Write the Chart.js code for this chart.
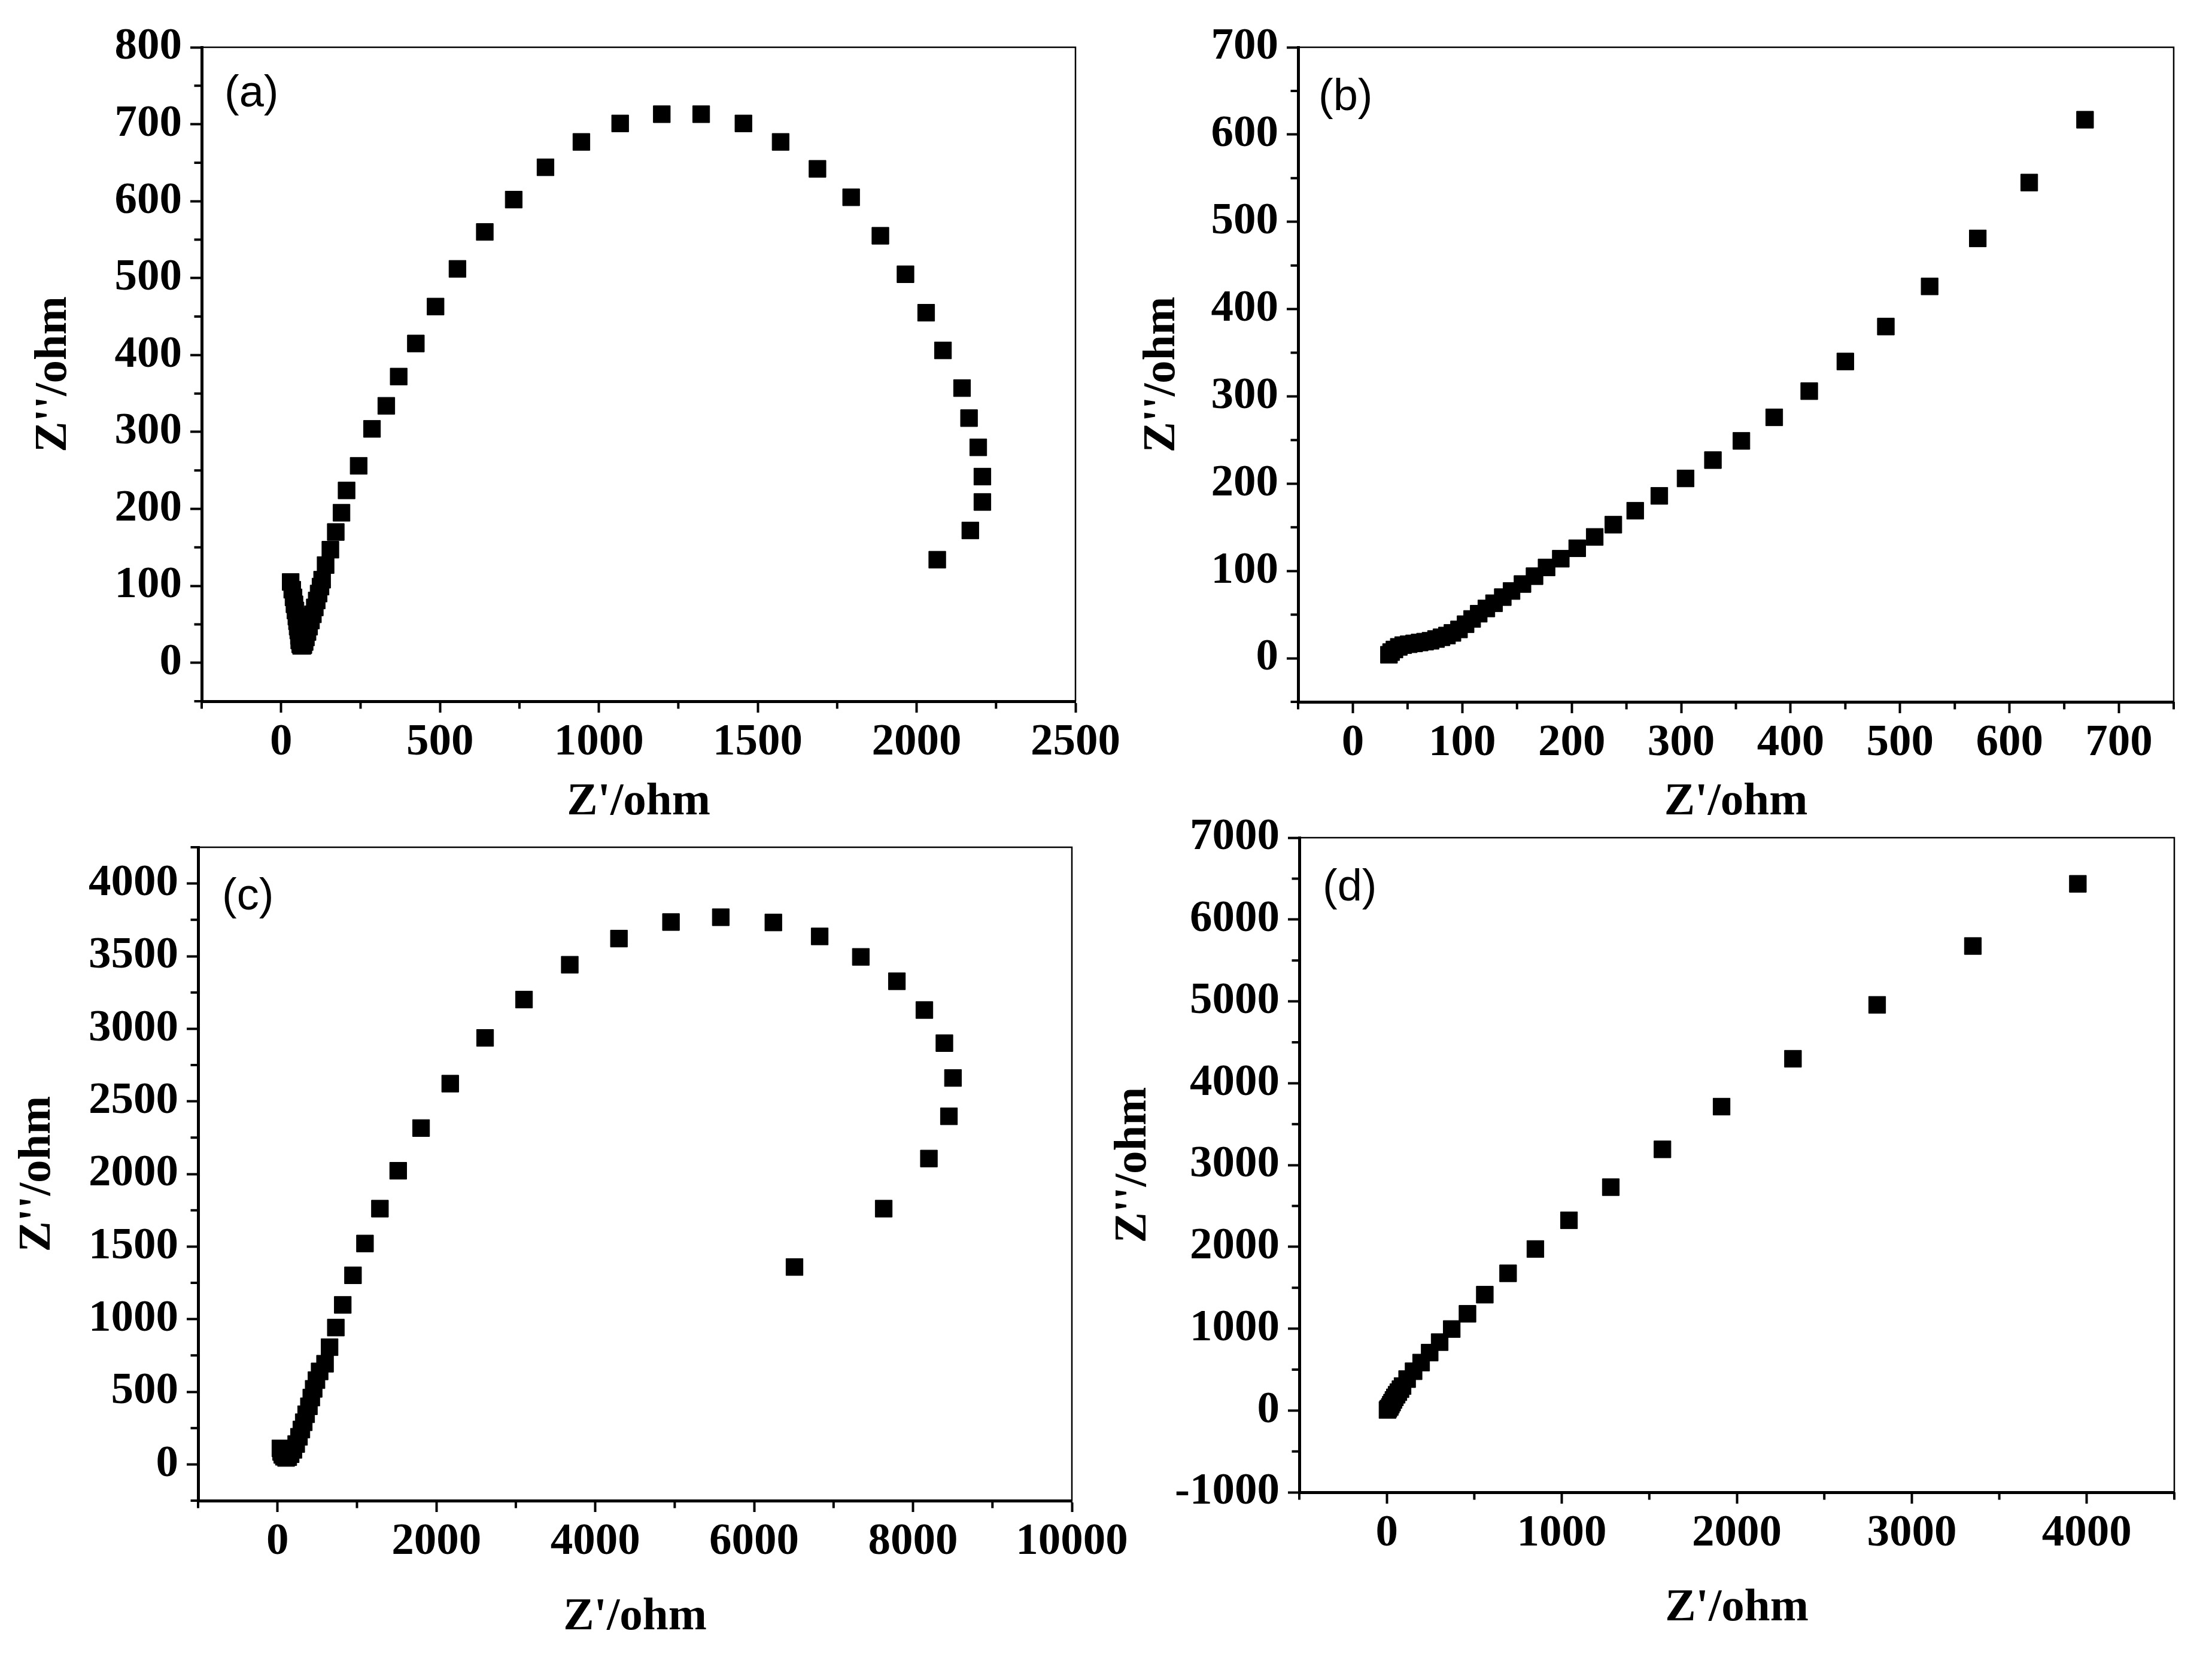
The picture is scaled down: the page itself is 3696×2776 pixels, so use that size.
<!DOCTYPE html>
<html>
<head>
<meta charset="utf-8">
<title>Nyquist plots</title>
<script src="https://cdn.jsdelivr.net/npm/chart.js@4.4.0/dist/chart.umd.min.js"></script>
<style>
    html, body { margin: 0; padding: 0; background: #fff; }
    body { width: 3696px; height: 2776px; position: relative; overflow: hidden; }
    canvas { position: absolute; left: 0; top: 0; }
</style>
</head>
<body>
<canvas id="pa" width="3696" height="2776"></canvas>
<canvas id="pb" width="3696" height="2776"></canvas>
<canvas id="pc" width="3696" height="2776"></canvas>
<canvas id="pd" width="3696" height="2776"></canvas>
<script>
var aRe = [30, 35, 39, 42, 45, 48, 50, 52, 54, 56, 57, 60, 63, 67, 70, 74, 78, 83, 88, 94,
    100, 106, 112, 118, 124, 129, 140, 155, 172, 190, 206, 244, 286, 331, 370, 424, 486, 555,
    641, 732, 832, 945, 1067, 1198, 1322, 1455, 1572, 1688, 1794, 1886, 1965, 2030, 2083,
    2143, 2165, 2194, 2207, 2207, 2169, 2065];
var aIm = [105, 95, 85, 76, 68, 60, 54, 47, 42, 35, 29, 24, 22, 22, 23, 27, 33, 40, 47, 55,
    63, 72, 81, 90, 99, 108, 127, 147, 170, 195, 224, 256, 304, 334, 372, 415, 463, 512,
    560, 602, 644, 677, 701, 713, 713, 701, 677, 642, 605, 555, 505, 455, 406,
    357, 318, 280, 242, 209, 172, 134];

var bRe = [33, 35, 38, 42, 46, 51, 56, 61, 66, 71, 76, 81, 86, 91, 97, 103, 109, 115, 122,
    129, 137, 145, 155, 166, 177, 190, 205, 221, 238, 258, 280, 304, 329, 355, 385, 417,
    450, 487, 527, 571, 618, 669];
var bIm = [4, 7, 10, 13, 15, 16, 17, 18, 19, 20, 22, 24, 26, 29, 33, 39, 45, 51, 57,
    63, 70, 77, 85, 94, 104, 114, 126, 139, 153, 169, 186, 206, 227, 249, 276, 306,
    340, 380, 426, 481, 545, 617];

var cRe = [36, 45, 60, 80, 108, 135, 165, 200, 235, 270, 300, 330, 360, 395, 425, 455, 490,
    530, 598, 655, 734, 821, 950, 1101, 1289, 1519, 1807, 2174, 2613, 3103, 3679, 4298,
    4953, 5580, 6242, 6825, 7343, 7797, 8143, 8395, 8503, 8452, 8200, 7631, 6508];
var cIm = [110, 85, 65, 52, 44, 50, 70, 100, 140, 190, 240, 290, 345, 400, 460, 520, 580,
    640, 693, 807, 942, 1098, 1302, 1521, 1761, 2022, 2316, 2622, 2937, 3201, 3441, 3621,
    3735, 3768, 3732, 3636, 3495, 3327, 3129, 2901, 2661, 2397, 2106, 1761, 1359];

var dRe = [4, 9, 17, 23, 30, 38, 46, 56, 66, 78, 90, 116, 153, 196, 245, 302, 371, 461, 560,
    693, 849, 1041, 1280, 1575, 1913, 2321, 2802, 3349, 3949];
var dIm = [6, 22, 43, 70, 96, 128, 160, 192, 223, 260, 298, 383, 479, 585, 707, 835, 995, 1181, 1415,
    1676, 1973, 2324, 2729, 3191, 3713, 4298, 4957, 5676, 6436];

// ---- tick values ----
var aXTicks = [0, 500, 1000, 1500, 2000, 2500];
var aXMinor = [-250, 250, 750, 1250, 1750, 2250];
var aYTicks = [0, 100, 200, 300, 400, 500, 600, 700, 800];
var aYMinor = [-50, 50, 150, 250, 350, 450, 550, 650, 750];

var bXTicks = [0, 100, 200, 300, 400, 500, 600, 700];
var bXMinor = [-50, 50, 150, 250, 350, 450, 550, 650, 750];
var bYTicks = [0, 100, 200, 300, 400, 500, 600, 700];
var bYMinor = [-50, 50, 150, 250, 350, 450, 550, 650];

var cXTicks = [0, 2000, 4000, 6000, 8000, 10000];
var cXMinor = [-1000, 1000, 3000, 5000, 7000, 9000];
var cYTicks = [0, 500, 1000, 1500, 2000, 2500, 3000, 3500, 4000];
var cYMinor = [-250, 250, 750, 1250, 1750, 2250, 2750, 3250, 3750, 4250];

var dXTicks = [0, 1000, 2000, 3000, 4000];
var dXMinor = [-500, 500, 1500, 2500, 3500, 4500];
var dYTicks = [-1000, 0, 1000, 2000, 3000, 4000, 5000, 6000, 7000];
var dYMinor = [-500, 500, 1500, 2500, 3500, 4500, 5500, 6500];

var SERIF = "'Liberation Serif', 'Times New Roman', serif";
var SANS = "'Liberation Sans', Arial, sans-serif";

function axis(min, max, ticks, title, titlePad, horizontal, size) {
    return {
        type: "linear",
        min: min,
        max: max,
        afterBuildTicks: function (s) {
            s.ticks = ticks.map(function (v) { return { value: v }; });
        },
        afterFit: function (s) {
            if (horizontal) s.height = size;
            else s.width = size;
            s.paddingLeft = 0;
            s.paddingRight = 0;
            s.paddingTop = 0;
            s.paddingBottom = 0;
        },
        ticks: {
            color: "#000",
            autoSkip: false,
            maxRotation: 0,
            padding: horizontal ? 6 : 14,
            font: { family: SERIF, weight: "bold", size: 75 },
            callback: function (v) { return String(v); },
        },
        grid: {
            drawOnChartArea: false,
            drawTicks: true,
            tickLength: 19,
            tickWidth: 4,
            tickColor: "#000",
        },
        border: { display: true, width: 5, color: "#000" },
        title: {
            display: true,
            text: title,
            color: "#000",
            font: { family: SERIF, weight: "bold", size: 77, lineHeight: 1 },
            padding: horizontal ? { top: 0, bottom: titlePad } : { top: titlePad, bottom: 0 },
        },
    };
}

// frame, minor ticks and the (a)-(d) label
function deco(p) {
    return {
        id: "deco_" + p.id,
        beforeDatasetsDraw: function (chart) {
            var a = chart.chartArea;
            var c = chart.ctx;
            var xs = chart.scales.x;
            var ys = chart.scales.y;
            c.save();
            c.strokeStyle = "#000";
            c.lineWidth = 2.5;
            c.beginPath();
            c.moveTo(a.left, a.top);
            c.lineTo(a.right, a.top);
            c.lineTo(a.right, a.bottom);
            c.stroke();

            c.lineWidth = 4;
            c.beginPath();
            p.xMinor.forEach(function (v) {
                var px = xs.getPixelForValue(v);
                c.moveTo(px, a.bottom);
                c.lineTo(px, a.bottom + 12.5);
            });
            p.yMinor.forEach(function (v) {
                var py = ys.getPixelForValue(v);
                c.moveTo(a.left, py);
                c.lineTo(a.left - 12.5, py);
            });
            c.stroke();

            c.fillStyle = "#000";
            c.font = "74px " + SANS;
            c.textAlign = "left";
            c.textBaseline = "middle";
            c.fillText(p.label, p.labelX, p.labelY);
            c.restore();
        },
    };
}

function makePanel(p) {
    var ctx = document.getElementById(p.id).getContext("2d");
    var points = p.re.map(function (x, i) { return { x: x, y: p.im[i] }; });
    return new Chart(ctx, {
        type: "scatter",
        data: {
            datasets: [
                {
                    data: points,
                    pointStyle: "rect",
                    pointRadius: 20,
                    backgroundColor: "#000",
                    borderColor: "#000",
                    borderWidth: 1,
                },
            ],
        },
        options: {
            responsive: false,
            animation: false,
            devicePixelRatio: 1,
            events: [],
            layout: { padding: p.pad },
            plugins: {
                legend: { display: false },
                tooltip: { enabled: false },
            },
            scales: {
                x: axis(p.xMin, p.xMax, p.xTicks, "Z'/ohm", p.xTitlePad, true, p.xSize),
                y: axis(p.yMin, p.yMax, p.yTicks, "Z''/ohm", p.yTitlePad, false, p.ySize),
            },
        },
        plugins: [deco(p)],
    });
}

makePanel({
    id: "pa", label: "(a)", labelX: 375, labelY: 158,
    re: aRe, im: aIm,
    xMin: -250, xMax: 2500, yMin: -50, yMax: 800,
    xTicks: aXTicks, xMinor: aXMinor, yTicks: aYTicks, yMinor: aYMinor,
    pad: { left: 0, top: 79, right: 1899, bottom: 1388 },
    xSize: 216, ySize: 337, xTitlePad: 8, yTitlePad: 52,
});

makePanel({
    id: "pb", label: "(b)", labelX: 2203, labelY: 164,
    re: bRe, im: bIm,
    xMin: -50, xMax: 750, yMin: -50, yMax: 700,
    xTicks: bXTicks, xMinor: bXMinor, yTicks: bYTicks, yMinor: bYMinor,
    pad: { left: 1848, top: 79, right: 64, bottom: 1388 },
    xSize: 215, ySize: 321, xTitlePad: 8, yTitlePad: 56,
});

makePanel({
    id: "pc", label: "(c)", labelX: 371, labelY: 1500,
    re: cRe, im: cIm,
    xMin: -1000, xMax: 10000, yMin: -250, yMax: 4250,
    xTicks: cXTicks, xMinor: cXMinor, yTicks: cYTicks, yMinor: cYMinor,
    pad: { left: 0, top: 1416, right: 1905, bottom: 0 },
    xSize: 268, ySize: 331, xTitlePad: 34, yTitlePad: 25,
});

makePanel({
    id: "pd", label: "(d)", labelX: 2210, labelY: 1485,
    re: dRe, im: dIm,
    xMin: -500, xMax: 4500, yMin: -1000, yMax: 7000,
    xTicks: dXTicks, xMinor: dXMinor, yTicks: dYTicks, yMinor: dYMinor,
    pad: { left: 1848, top: 1400, right: 63, bottom: 0 },
    xSize: 282, ySize: 323, xTitlePad: 49, yTitlePad: 8,
});
</script>
</body>
</html>
